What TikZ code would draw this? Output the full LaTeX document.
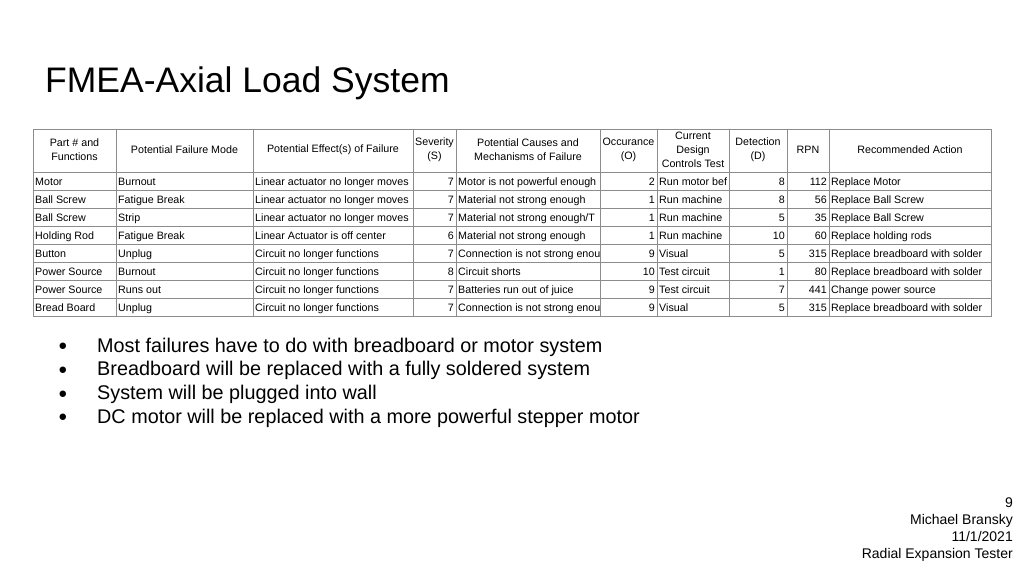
\documentclass[tikz,border=0pt]{standalone}
\usepackage{fontspec}
\setmainfont{Liberation Sans}
\tikzset{
  cell/.style={inner sep=0pt, anchor=base west, font=\fontsize{10.7}{12}\selectfont},
  num/.style={inner sep=0pt, anchor=base east, font=\fontsize{10.7}{12}\selectfont},
  head/.style={inner sep=0pt, align=center, font=\fontsize{10.7}{14}\selectfont},
  grid/.style={draw=black!45, line width=0.8pt}
}
\begin{document}
\begin{tikzpicture}[x=1pt,y=-1pt]
  \useasboundingbox (0,0) rectangle (1024,576);
  % title
  \node (Title) [anchor=west, inner sep=0pt, font=\fontsize{35.5}{38}\selectfont] at (45,83) {FMEA-Axial Load System};
  % grid
  \foreach \x in {33,116,253,413,456,600,657,729,787,829,991}
    \draw[grid] (\x,129) -- (\x,317);
  \draw[grid] (33,129) -- (991,129);
  \foreach \k in {0,...,8}
    \draw[grid] (33,172+18.1*\k) -- (991,172+18.1*\k);
  % header
  \node[head] (hPart) at (74.5,150) {Part \# and\\Functions};
  \node[head] (hMode) at (184.5,150) {Potential Failure Mode};
  \node[head] (hEff) at (333,150) {Potential Effect(s) of Failure};
  \node[head] (hSev) at (434.5,150) {Severity\\(S)};
  \node[head] (hCause) at (528,150) {Potential Causes and\\Mechanisms of Failure};
  \node[head] (hOcc) at (628.5,150) {Occurance\\(O)};
  \node[head] (hCtl) at (693,150) {Current\\Design\\Controls Test};
  \node[head] (hDet) at (758,150) {Detection\\(D)};
  \node[head] (hRPN) at (808,150) {RPN};
  \node[head] (hAct) at (910,150) {Recommended Action};
  % rows
  \foreach \r/\pa/\mo/\ef/\sv/\ca/\oc/\ct/\dt/\rp/\ac in {
    0/Motor/Burnout/Linear actuator no longer moves/7/Motor is not powerful enough/2/Run motor bef/8/112/Replace Motor,
    1/Ball Screw/Fatigue Break/Linear actuator no longer moves/7/Material not strong enough/1/Run machine/8/56/Replace Ball Screw,
    2/Ball Screw/Strip/Linear actuator no longer moves/7/{Material not strong enough/T}/1/Run machine/5/35/Replace Ball Screw,
    3/Holding Rod/Fatigue Break/Linear Actuator is off center/6/Material not strong enough/1/Run machine/10/60/Replace holding rods,
    4/Button/Unplug/Circuit no longer functions/7/Connection is not strong enou/9/Visual/5/315/Replace breadboard with solder,
    5/Power Source/Burnout/Circuit no longer functions/8/Circuit shorts/10/Test circuit/1/80/Replace breadboard with solder,
    6/Power Source/Runs out/Circuit no longer functions/7/Batteries run out of juice/9/Test circuit/7/441/Change power source,
    7/Bread Board/Unplug/Circuit no longer functions/7/Connection is not strong enou/9/Visual/5/315/Replace breadboard with solder}{
    \pgfmathsetmacro{\yy}{185+18.1*\r}
    \node[cell] (p\r) at (35,\yy) {\pa};
    \node[cell] (m\r) at (118,\yy) {\mo};
    \node[cell] (e\r) at (255,\yy) {\ef};
    \node[num] (s\r) at (454,\yy) {\sv};
    \node[cell] (c\r) at (458,\yy) {\ca};
    \node[num] (o\r) at (655,\yy) {\oc};
    \node[cell] (t\r) at (659,\yy) {\ct};
    \node[num] (d\r) at (785,\yy) {\dt};
    \node[num] (n\r) at (827,\yy) {\rp};
    \node[cell] (a\r) at (831,\yy) {\ac};
  }
  % bullets
  \foreach \k/\txt in {0/Most failures have to do with breadboard or motor system,
    1/Breadboard will be replaced with a fully soldered system,
    2/System will be plugged into wall,
    3/DC motor will be replaced with a more powerful stepper motor}{
    \node (dot\k) [inner sep=0pt, font=\fontsize{15}{16}\selectfont] at (63,347+23.7*\k) {●};
    \node (b\k) [anchor=west, inner sep=0pt, font=\fontsize{19.8}{22}\selectfont] at (97,347+23.7*\k) {\txt};
  }
  % footer
  \node (Foot) [anchor=north east, inner sep=0pt, align=right, font=\fontsize{14}{17}\selectfont] at (1013,498) {9\\Michael Bransky\\11/1/2021\\Radial Expansion Tester};
\end{tikzpicture}
\end{document}
